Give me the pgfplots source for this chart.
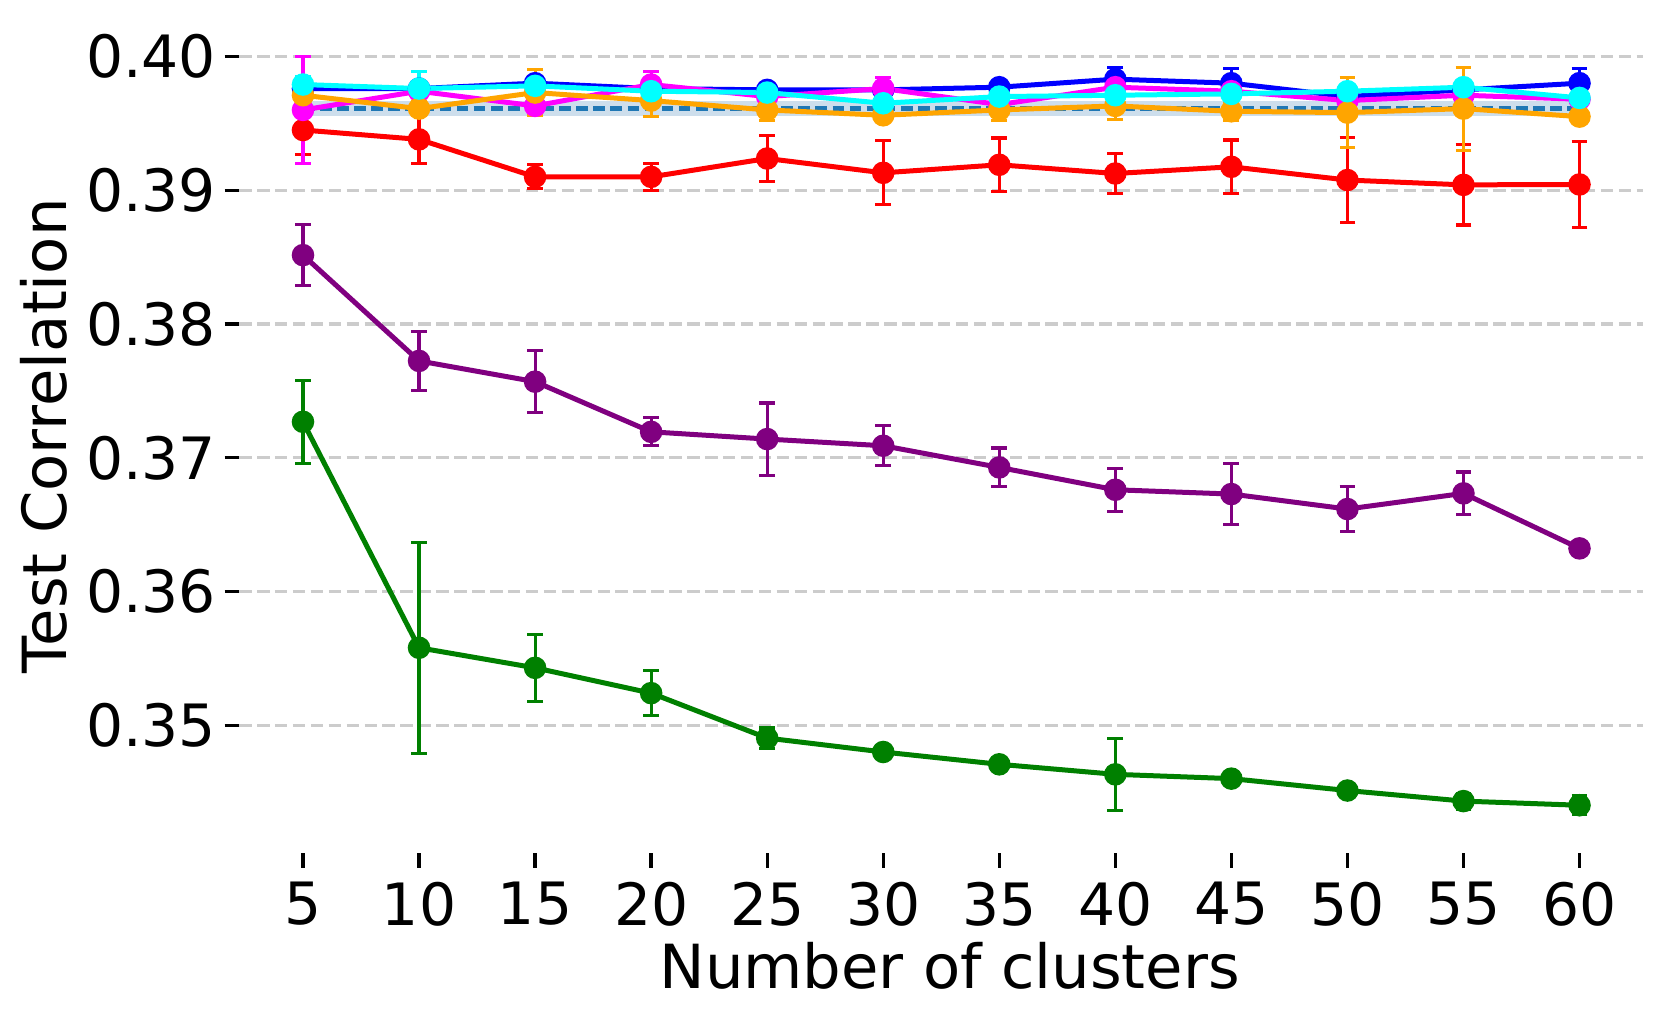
\documentclass[border=0pt]{standalone}
\usepackage{fontspec}
\setmainfont{DejaVu Sans}
\usepackage{pgfplots}
\pgfplotsset{compat=1.18}

\definecolor{tabblue}{RGB}{31,119,180}
\definecolor{bandblue}{RGB}{205,222,236}
\definecolor{mblue}{RGB}{0,0,255}
\definecolor{mred}{RGB}{255,0,0}
\definecolor{mcyan}{RGB}{0,255,255}
\definecolor{mmagenta}{RGB}{255,0,255}
\definecolor{morange}{RGB}{255,165,0}
\definecolor{mpurple}{RGB}{128,0,128}
\definecolor{mgreen}{RGB}{0,128,0}
\definecolor{gridgray}{RGB}{204,204,204}

\pgfplotsset{
  ser/.style={
    color=#1, line width=1.2pt, mark=*, mark size=2.1pt,
    mark options={solid, fill=#1, draw=#1},
    error bars/.cd, y dir=both, y explicit,
    error bar style={line width=0.75pt, color=#1},
    error mark options={rotate=90, line width=0.75pt, mark size=1.9pt, color=#1},
  },
}

\begin{document}
\begin{tikzpicture}
\path[use as bounding box] (0,0) rectangle (398.64pt,244.32pt);
\begin{axis}[
  scale only axis,
  width=337pt, height=200.3pt,
  at={(57.4pt,39.6pt)}, anchor=south west,
  xmin=2.25, xmax=62.75,
  ymin=0.34046, ymax=0.40284,
  xtick={5,10,...,60},
  ytick={0.35,0.36,0.37,0.38,0.39,0.40},
  /pgf/number format/assume math mode=true,
  axis line style={draw=none},
  tick align=outside,
  major tick length=3.5pt,
  tick style={black, line width=0.8pt},
  xtick pos=bottom, ytick pos=left,
  ymajorgrids,
  grid style={gridgray, line width=0.8pt, dash pattern=on 3pt off 1.3pt},
  xticklabel style={font=\fontsize{14}{17}\selectfont},
  yticklabel style={font=\fontsize{14}{17}\selectfont, xshift=1.5pt,
    /pgf/number format/.cd, fixed, fixed zerofill, precision=2},
  label style={font=\fontsize{14.6}{17.5}\selectfont},
  xlabel={Number of clusters},
  ylabel={Test Correlation},
  xlabel style={at={(axis description cs:0.506,-0.1354)}, anchor=center},
  ylabel style={at={(axis description cs:-0.139,0.5)}, anchor=center, rotate=0},
  clip=false,
]

% baseline band and mean
\addplot[fill=bandblue, draw=none, forget plot] coordinates {
  (5,0.39555) (60,0.39555) (60,0.39665) (5,0.39665)} -- cycle;
\addplot[tabblue, line width=1.2pt, dash pattern=on 2.8pt off 1.3pt] coordinates {
  (5,0.3961) (60,0.3961)};

% red
\addplot[ser=mred] table[x=x, y=y, y error=e] {
x y e
5 0.39450 0.0018
10 0.39380 0.0018
15 0.39100 0.0009
20 0.39100 0.0010
25 0.39237 0.00175
30 0.39130 0.0024
35 0.39190 0.0020
40 0.39125 0.0015
45 0.39175 0.0020
50 0.39076 0.0032
55 0.39040 0.0030
60 0.39043 0.0032
};

% purple
\addplot[ser=mpurple] table[x=x, y=y, y error=e] {
x y e
5 0.38515 0.0023
10 0.37724 0.0022
15 0.37569 0.0023
20 0.37194 0.00105
25 0.37140 0.0027
30 0.37090 0.0015
35 0.36928 0.00145
40 0.36761 0.0016
45 0.36729 0.0023
50 0.36617 0.0017
55 0.36734 0.0016
60 0.36323 0.0002
};

% green
\addplot[ser=mgreen] table[x=x, y=y, y error=e] {
x y e
5 0.37269 0.0031
10 0.35580 0.0079
15 0.35430 0.0025
20 0.35241 0.0017
25 0.34905 0.00075
30 0.34801 0.0003
35 0.34709 0.0003
40 0.34634 0.0027
45 0.34602 0.0004
50 0.34513 0.0003
55 0.34434 0.0006
60 0.34403 0.0007
};

% blue
\addplot[ser=mblue] table[x=x, y=y, y error=e] {
x y e
5 0.3976 0.0003
10 0.3976 0.0003
15 0.3980 0.0005
20 0.3976 0.0004
25 0.3975 0.0004
30 0.3975 0.0004
35 0.3977 0.0004
40 0.3983 0.0009
45 0.3980 0.0011
50 0.3970 0.0005
55 0.3975 0.0004
60 0.3980 0.0011
};

% magenta
\addplot[ser=mmagenta] table[x=x, y=y, y error=e] {
x y e
5 0.3960 0.0040
10 0.3974 0.0005
15 0.3963 0.0006
20 0.3979 0.0010
25 0.3970 0.0004
30 0.3976 0.0008
35 0.3964 0.0004
40 0.3977 0.0004
45 0.3974 0.0004
50 0.3967 0.0004
55 0.3971 0.0005
60 0.3968 0.0004
};

% orange
\addplot[ser=morange] table[x=x, y=y, y error=e] {
x y e
5 0.3971 0.0004
10 0.3961 0.0005
15 0.3973 0.0017
20 0.3967 0.0012
25 0.3960 0.0008
30 0.3956 0.0004
35 0.3960 0.0008
40 0.3963 0.0010
45 0.3959 0.0007
50 0.3958 0.0026
55 0.3961 0.0031
60 0.3955 0.0004
};

% cyan
\addplot[ser=mcyan] table[x=x, y=y, y error=e] {
x y e
5 0.3979 0.0006
10 0.3976 0.0013
15 0.3978 0.0004
20 0.3974 0.0006
25 0.3973 0.0004
30 0.3965 0.0004
35 0.3970 0.0004
40 0.3971 0.0004
45 0.3972 0.0012
50 0.3974 0.0005
55 0.3977 0.0005
60 0.3969 0.0004
};

\end{axis}
\end{tikzpicture}
\end{document}
